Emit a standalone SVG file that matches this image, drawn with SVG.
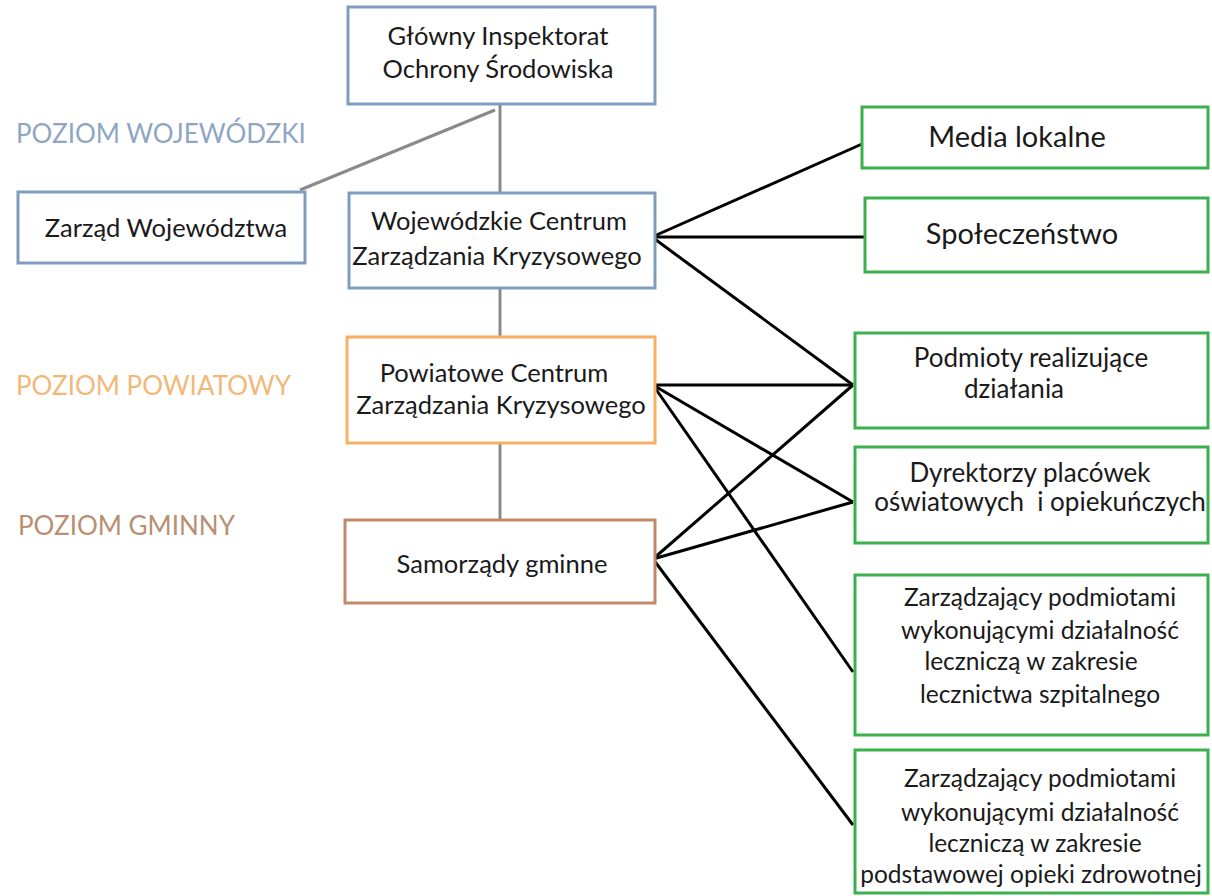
<svg xmlns="http://www.w3.org/2000/svg" width="1212" height="896" viewBox="0 0 1212 896">
<style>
.box{fill:#fff;stroke-width:3}
.blue{stroke:#7f9cc0}
.orange{stroke:#f5b062}
.brown{stroke:#c08a6a}
.green{stroke:#3cb04e}
.t{font-family:Lato,"Open Sans",sans-serif;font-size:25.5px;fill:#1a1a1a;text-anchor:middle}
.big{font-size:29px}
.mid{font-size:26px}
.sm{font-size:24.5px}
.lvl{font-family:Lato,"Open Sans",sans-serif;font-size:26px}
.gray{stroke:#8a8a8a;stroke-width:3;fill:none}
.blk{stroke:#000;stroke-width:3;fill:none}
</style>
<rect width="1212" height="896" fill="#fff"/>
<text class="lvl" x="16" y="143" fill="#8ea6c4">POZIOM WOJEWÓDZKI</text>
<text class="lvl" x="16" y="395" fill="#f2b878">POZIOM POWIATOWY</text>
<text class="lvl" x="18" y="535" fill="#b98e73">POZIOM GMINNY</text>
<g id="connectors">
<line class="gray" x1="500" y1="105" x2="500" y2="193"/>
<line class="gray" x1="495" y1="110" x2="300" y2="190"/>
<line class="gray" x1="500" y1="288" x2="500" y2="337"/>
<line class="gray" x1="500" y1="443" x2="500" y2="520"/>
<line class="blk" x1="652" y1="237" x2="862" y2="144"/>
<line class="blk" x1="652" y1="237" x2="864" y2="237"/>
<line class="blk" x1="652" y1="237" x2="853" y2="385"/>
<line class="blk" x1="653" y1="385" x2="853" y2="385"/>
<line class="blk" x1="653" y1="385" x2="853" y2="502"/>
<line class="blk" x1="653" y1="385" x2="853" y2="672"/>
<line class="blk" x1="653" y1="559" x2="853" y2="385"/>
<line class="blk" x1="653" y1="559" x2="853" y2="502"/>
<line class="blk" x1="653" y1="559" x2="853" y2="825"/>
</g>
<g id="gios"><rect class="box blue" x="348" y="7" width="307" height="97"/>
<text class="t" x="498" y="45">Główny Inspektorat</text><text class="t" x="498" y="78">Ochrony Środowiska</text></g>
<g id="zarzad"><rect class="box blue" x="18" y="192" width="287" height="71"/>
<text class="t" x="166" y="237">Zarząd Województwa</text></g>
<g id="wczk"><rect class="box blue" x="349" y="193" width="306" height="95"/>
<text class="t" x="499" y="230">Wojewódzkie Centrum</text><text class="t" x="497" y="265">Zarządzania Kryzysowego</text></g>
<g id="pczk"><rect class="box orange" x="347" y="337" width="308" height="106"/>
<text class="t" x="494" y="382">Powiatowe Centrum</text><text class="t" x="501" y="414">Zarządzania Kryzysowego</text></g>
<g id="samorzady"><rect class="box brown" x="345" y="520" width="310" height="83"/>
<text class="t" x="502" y="573">Samorządy gminne</text></g>
<g id="media"><rect class="box green" x="862" y="107" width="346" height="61"/>
<text class="t big" x="1017" y="147">Media lokalne</text></g>
<g id="spoleczenstwo"><rect class="box green" x="865" y="198" width="343" height="74"/>
<text class="t big" x="1022" y="244">Społeczeństwo</text></g>
<g id="podmioty"><rect class="box green" x="855" y="333" width="353" height="95"/>
<text class="t mid" x="1031" y="367">Podmioty realizujące</text><text class="t mid" x="1014" y="398">działania</text></g>
<g id="dyrektorzy"><rect class="box green" x="855" y="447" width="353" height="96"/>
<text class="t mid" x="1030" y="482">Dyrektorzy placówek</text><text class="t mid" x="1040" y="511" xml:space="preserve">oświatowych  i opiekuńczych</text></g>
<g id="szpital"><rect class="box green" x="855" y="575" width="353" height="160"/>
<text class="t sm" x="1040" y="606">Zarządzający podmiotami</text><text class="t sm" x="1040" y="639">wykonującymi działalność</text><text class="t sm" x="1031" y="670">leczniczą w zakresie</text><text class="t sm" x="1040" y="703">lecznictwa szpitalnego</text></g>
<g id="poz"><rect class="box green" x="855" y="750" width="353" height="143"/>
<text class="t sm" x="1040" y="787">Zarządzający podmiotami</text><text class="t sm" x="1040" y="821">wykonującymi działalność</text><text class="t sm" x="1035" y="852">leczniczą w zakresie</text><text class="t sm" x="1031" y="883">podstawowej opieki zdrowotnej</text></g>
</svg>
